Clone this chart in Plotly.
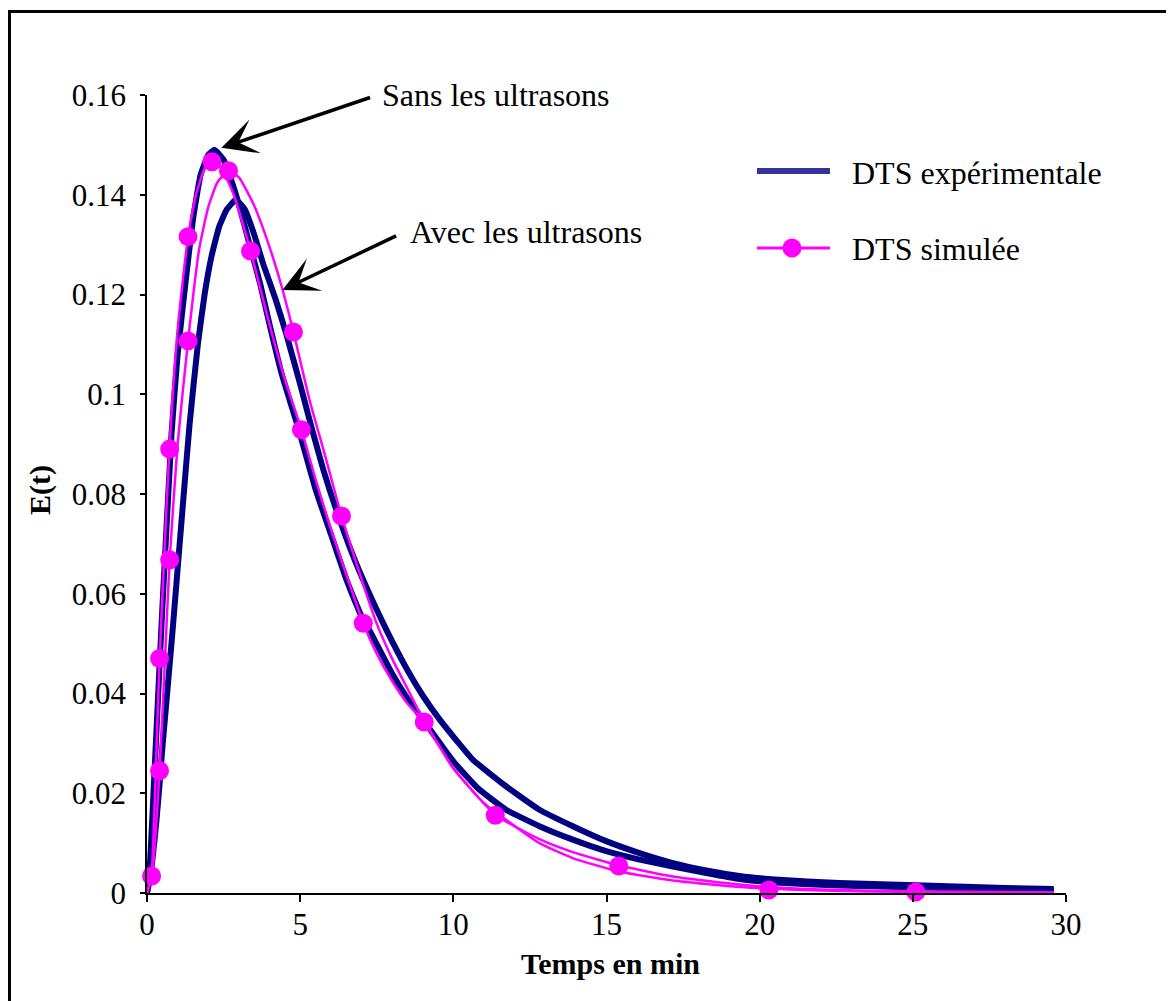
import plotly.graph_objects as go

# ---------------- data ----------------
# Experimental RTD, without ultrasound ("Sans les ultrasons")
expA_t = [0, 0.1, 0.25, 0.5, 0.8, 1.0, 1.25, 1.5, 1.75, 2.0, 2.2, 2.5, 2.8, 3.0, 3.35, 3.7, 4.0,
          4.4, 4.9, 5.04, 5.5, 6.0, 6.5, 6.77, 7.04, 7.26, 8.0, 8.5, 9.1, 10.0, 10.8, 11.72,
          12.81, 13.9, 14.99, 16.08, 17.17, 18.26, 19.34, 20.5, 22.6, 25.9, 28.0, 29.6]
expA_E = [0, 0.006, 0.025, 0.057, 0.092, 0.108, 0.122, 0.135, 0.144, 0.148, 0.149, 0.147, 0.142,
          0.138, 0.130, 0.122, 0.114, 0.104, 0.094, 0.091, 0.081, 0.072, 0.063, 0.0588, 0.055,
          0.0527, 0.044, 0.039, 0.034, 0.0264, 0.021, 0.0167, 0.0134, 0.0107, 0.0084, 0.0067,
          0.0053, 0.0040, 0.0028, 0.0021, 0.0015, 0.0010, 0.0007, 0.0005]

# Experimental RTD, with ultrasound ("Avec les ultrasons")
expB_t = [0, 0.1, 0.2, 0.3, 0.4, 0.5, 0.6, 0.7, 0.84, 1.0, 1.2, 1.39, 1.66, 1.88, 2.1, 2.35,
          2.6, 2.9, 3.2, 3.5, 3.8, 4.2, 4.55, 5.0, 5.3, 5.8, 6.34, 6.8, 7.37, 7.81, 8.5, 9.0,
          9.55, 10.1, 10.64, 11.72, 12.81, 13.9, 14.99, 16.08, 17.17, 18.26, 19.34, 20.5, 22.6,
          25.9, 28.0, 29.6]
expB_E = [0, 0.003, 0.008, 0.014, 0.021, 0.029, 0.036, 0.043, 0.053, 0.065, 0.080, 0.094, 0.110,
          0.120, 0.1275, 0.1335, 0.137, 0.139, 0.137, 0.132, 0.126, 0.119, 0.112, 0.102, 0.095,
          0.084, 0.074, 0.0665, 0.0585, 0.0528, 0.0447, 0.0396, 0.0348, 0.0306, 0.0267, 0.0214,
          0.0167, 0.0134, 0.0104, 0.0080, 0.0060, 0.0045, 0.0034, 0.0027, 0.0020, 0.0014,
          0.0010, 0.0008]

# Simulated RTD, without ultrasound
simA_t = [0, 0.15, 0.25, 0.41, 0.55, 0.74, 1.0, 1.34, 1.6, 1.9, 2.12, 2.4, 2.8, 3.38, 4.0, 4.5,
          5.04, 5.5, 6.0, 6.5, 7.06, 7.5, 8.0, 8.5, 9.05, 10.0, 11.37, 12.81, 13.9, 15.42, 17.17,
          19.34, 20.3, 22.0, 25.1, 29.6]
simA_E = [0, 0.004, 0.018, 0.047, 0.066, 0.090, 0.113, 0.1316, 0.140, 0.1455, 0.1466, 0.1455,
          0.1405, 0.1287, 0.114, 0.103, 0.0929, 0.083, 0.073, 0.064, 0.0541, 0.048, 0.0425,
          0.038, 0.0343, 0.025, 0.0157, 0.0108, 0.0082, 0.0055, 0.0033, 0.0017, 0.0012, 0.0007,
          0.0003, 0.0001]

# Simulated RTD, with ultrasound
simB_t = [0, 0.15, 0.25, 0.41, 0.55, 0.74, 1.0, 1.34, 1.7, 2.0, 2.3, 2.66, 3.0, 3.5, 4.0, 4.4,
          4.78, 5.3, 5.8, 6.35, 7.0, 7.5, 8.0, 8.5, 9.0, 10.0, 11.0, 11.72, 12.81, 13.9, 15.42,
          17.17, 19.34, 22.0, 25.0, 29.6]
simB_E = [0, 0.003, 0.009, 0.0245, 0.042, 0.0668, 0.090, 0.1107, 0.129, 0.1375, 0.1425, 0.1448,
          0.1435, 0.1378, 0.1295, 0.1215, 0.1125, 0.099, 0.088, 0.0756, 0.063, 0.054, 0.047,
          0.041, 0.035, 0.025, 0.018, 0.0147, 0.010, 0.007, 0.0043, 0.0025, 0.0012, 0.0005,
          0.0002, 0.0001]

# Marker positions on the simulated curves
simA_mk_t = [0.15, 0.41, 0.74, 1.34, 2.12, 3.38, 5.04, 7.06, 9.05, 11.37, 15.4, 20.3, 25.1]
simA_mk_E = [0.0034, 0.047, 0.089, 0.1316, 0.1466, 0.1287, 0.0929, 0.0541, 0.0343, 0.0156,
             0.0054, 0.0006, 0.0002]
simB_mk_t = [0.41, 0.74, 1.34, 2.66, 4.78, 6.35]
simB_mk_E = [0.0245, 0.0668, 0.1107, 0.1448, 0.1125, 0.0756]

x_ticks = [0, 5, 10, 15, 20, 25, 30]
y_ticks = [0, 0.02, 0.04, 0.06, 0.08, 0.1, 0.12, 0.14, 0.16]
y_tick_text = ["0", "0.02", "0.04", "0.06", "0.08", "0.1", "0.12", "0.14", "0.16"]

legend_labels = ["DTS expérimentale", "DTS simulée"]
arrow_labels = ["Sans les ultrasons", "Avec les ultrasons"]

# ---------------- styling ----------------
NAVY = "#000080"
NAVY_LEG = "#333399"
MAG = "#FF00FF"
FONT = "Liberation Serif"

OFF = 8                      # page body margin of the html page
W, H = 1174 - OFF, 1001 - OFF
L, T = 147 - OFF, 95 - OFF
PW, PH = 919, 798
R, B = W - L - PW, H - T - PH


def px(xp):
    """page pixel x -> paper coordinate"""
    return (xp - OFF - L) / PW


def py(yp):
    """page pixel y -> paper coordinate"""
    return (T + PH - (yp - OFF)) / PH


fig = go.Figure()

for t, e in ((expB_t, expB_E), (expA_t, expA_E)):
    fig.add_trace(go.Scatter(x=t, y=e, mode="lines", showlegend=False,
                             line=dict(color=NAVY, width=6, shape="spline", smoothing=0.4)))

for t, e in ((simA_t, simA_E), (simB_t, simB_E)):
    fig.add_trace(go.Scatter(x=t, y=e, mode="lines", showlegend=False,
                             line=dict(color=MAG, width=2.5, shape="spline", smoothing=0.5)))

for t, e in ((simA_mk_t, simA_mk_E), (simB_mk_t, simB_mk_E)):
    fig.add_trace(go.Scatter(x=t, y=e, mode="markers", showlegend=False, cliponaxis=False,
                             marker=dict(color=MAG, size=19, line=dict(width=0))))

fig.update_layout(
    width=W, height=H,
    margin=dict(l=L, r=R, t=T, b=B),
    paper_bgcolor="white", plot_bgcolor="white",
    font=dict(family=FONT, size=31, color="black"),
    showlegend=False,
)

fig.update_xaxes(range=[0, 30], tickvals=x_ticks, ticktext=[str(v) for v in x_ticks],
                 showgrid=False, zeroline=False, showline=True, linecolor="black", linewidth=2,
                 ticks="outside", ticklen=7, tickwidth=1.5, tickcolor="black",
                 ticklabelstandoff=-4, tickfont=dict(family=FONT, size=31))
fig.update_yaxes(range=[0, 0.16], tickvals=y_ticks, ticktext=y_tick_text,
                 showgrid=False, zeroline=False, showline=True, linecolor="black", linewidth=1.5,
                 ticks="outside", ticklen=5, tickwidth=1.5, tickcolor="black",
                 ticklabelstandoff=8, tickfont=dict(family=FONT, size=31))

ann = []
# axis titles
ann.append(dict(text="<b>Temps en min</b>", x=px(610), y=py(963), xref="paper", yref="paper",
                showarrow=False, xanchor="center", yanchor="middle",
                font=dict(family=FONT, size=30)))
ann.append(dict(text="<b>E(t)</b>", x=px(40), y=py(490), xref="paper", yref="paper",
                showarrow=False, xanchor="center", yanchor="middle", textangle=-90,
                font=dict(family=FONT, size=30)))
# arrow labels
ann.append(dict(text=arrow_labels[0], x=px(380), y=py(95), xref="paper", yref="paper",
                showarrow=False, xanchor="left", yanchor="middle", font=dict(family=FONT, size=32)))
ann.append(dict(text=arrow_labels[1], x=px(408), y=py(232), xref="paper", yref="paper",
                showarrow=False, xanchor="left", yanchor="middle", font=dict(family=FONT, size=32)))
# arrows (tip and tail in data coords)
ann.append(dict(text="", x=2.43, y=0.1494, ax=7.33, ay=0.1596, xref="x", yref="y",
                axref="x", ayref="y", showarrow=True, arrowhead=3, arrowsize=1.7,
                arrowwidth=3.5, arrowcolor="black", standoff=0))
ann.append(dict(text="", x=4.42, y=0.1209, ax=8.18, ay=0.1319, xref="x", yref="y",
                axref="x", ayref="y", showarrow=True, arrowhead=3, arrowsize=1.7,
                arrowwidth=3.5, arrowcolor="black", standoff=0))
# legend texts
ann.append(dict(text=legend_labels[0], x=px(850), y=py(173), xref="paper", yref="paper",
                showarrow=False, xanchor="left", yanchor="middle", font=dict(family=FONT, size=32)))
ann.append(dict(text=legend_labels[1], x=px(850), y=py(249), xref="paper", yref="paper",
                showarrow=False, xanchor="left", yanchor="middle", font=dict(family=FONT, size=32)))

shapes = []
# legend symbols
shapes.append(dict(type="line", xref="paper", yref="paper", x0=px(757), x1=px(830),
                   y0=py(171), y1=py(171), line=dict(color=NAVY_LEG, width=6)))
shapes.append(dict(type="line", xref="paper", yref="paper", x0=px(757), x1=px(830),
                   y0=py(248), y1=py(248), line=dict(color=MAG, width=3)))
shapes.append(dict(type="circle", xref="paper", yref="paper", xsizemode="pixel",
                   ysizemode="pixel", xanchor=px(792), yanchor=py(248), x0=-9.5, x1=9.5,
                   y0=-9.5, y1=9.5, fillcolor=MAG, line=dict(width=0)))
# outer frame
shapes.append(dict(type="rect", xref="paper", yref="paper", x0=px(9.5), x1=px(1200),
                   y0=py(1030), y1=py(11.5), line=dict(color="black", width=3),
                   fillcolor="rgba(0,0,0,0)"))

fig.update_layout(annotations=ann, shapes=shapes)

fig.write_html("out.html")
